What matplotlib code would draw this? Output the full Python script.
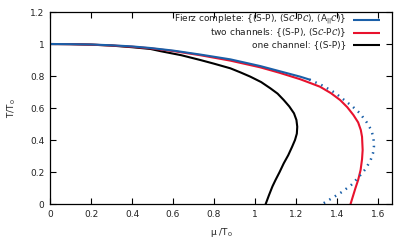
import matplotlib
matplotlib.use("Agg")
import matplotlib.pyplot as plt

# data: chemical potential mu/T0 vs temperature T/T0
black_mu = [0.0, 0.1, 0.2, 0.3, 0.4, 0.49, 0.54, 0.64, 0.733, 0.80, 0.88, 0.93, 0.977, 1.03, 1.075, 1.11,
            1.14, 1.167, 1.19, 1.202, 1.206, 1.204, 1.195, 1.181, 1.162, 1.14, 1.12, 1.10, 1.085, 1.068, 1.052]
black_T  = [1.0, 0.999, 0.996, 0.99, 0.98, 0.969, 0.955, 0.93, 0.90, 0.877, 0.848, 0.822, 0.796, 0.762, 0.723, 0.69,
            0.65, 0.61, 0.567, 0.525, 0.483, 0.44, 0.40, 0.358, 0.305, 0.254, 0.20, 0.15, 0.11, 0.055, 0.0]

red_mu = [0.0, 0.1, 0.2, 0.3, 0.4, 0.49, 0.6, 0.733, 0.88, 1.026, 1.12, 1.22, 1.27, 1.317, 1.37, 1.415,
          1.45, 1.48, 1.503, 1.516, 1.522, 1.525, 1.522, 1.515, 1.503, 1.49, 1.478, 1.466]
red_T  = [1.0, 0.999, 0.996, 0.991, 0.983, 0.973, 0.956, 0.93, 0.896, 0.854, 0.82, 0.78, 0.756, 0.733, 0.693, 0.65,
          0.605, 0.556, 0.51, 0.4625, 0.42, 0.3375, 0.28, 0.2125, 0.15, 0.10, 0.05, 0.0]

blue_mu = [0.0, 0.1, 0.2, 0.3, 0.4, 0.49, 0.6, 0.733, 0.88, 1.026, 1.12, 1.22, 1.265]
blue_T  = [1.0, 0.999, 0.997, 0.992, 0.985, 0.975, 0.959, 0.934, 0.904, 0.862, 0.83, 0.796, 0.778]

bluedot_mu = [1.265, 1.333, 1.39, 1.43, 1.475, 1.512, 1.545, 1.568, 1.578, 1.58, 1.575, 1.564, 1.54, 1.507,
              1.47, 1.426, 1.38, 1.328]
bluedot_T  = [0.778, 0.738, 0.695, 0.655, 0.61, 0.567, 0.51, 0.46, 0.41, 0.358, 0.315, 0.275, 0.22, 0.17,
              0.12, 0.077, 0.04, 0.0]

labels = [r'Fierz complete: {(S-P), (S$\mathcal{C}$-P$\mathcal{C}$), (A$_{||}\mathcal{C}$)}',
          r'two channels: {(S-P), (S$\mathcal{C}$-P$\mathcal{C}$)}',
          r'one channel: {(S-P)}']

xticks = [0, 0.2, 0.4, 0.6, 0.8, 1.0, 1.2, 1.4, 1.6]
xticklabels = ['0', '0.2', '0.4', '0.6', '0.8', '1', '1.2', '1.4', '1.6']
yticks = [0, 0.2, 0.4, 0.6, 0.8, 1.0, 1.2]
yticklabels = ['0', '0.2', '0.4', '0.6', '0.8', '1', '1.2']

BLUE = '#1a5fa8'
RED = '#e8122d'
BLACK = '#000000'
colors = [BLUE, RED, BLACK]

FS = 6.5
TXT = '#222222'

fig = plt.figure(figsize=(4.15, 2.49), dpi=100)
ax = fig.add_axes([0.1205, 0.1807, 0.824, 0.7711])

lw = 1.5
ax.plot(black_mu, black_T, color=BLACK, lw=lw)
ax.plot(red_mu, red_T, color=RED, lw=lw)
ax.plot(blue_mu, blue_T, color=BLUE, lw=lw)
ax.plot(bluedot_mu, bluedot_T, color=BLUE, lw=1.8, ls=(0, (0.6, 2.0)), dash_capstyle='butt')

ax.set_xlim(0, 1.668)
ax.set_ylim(0, 1.2)
ax.set_xticks(xticks)
ax.set_xticklabels(xticklabels)
ax.set_yticks(yticks)
ax.set_yticklabels(yticklabels)
ax.tick_params(direction='in', length=4, width=0.8, top=True, right=True,
               labelsize=FS, pad=4, colors='black')
for t in ax.get_xticklabels() + ax.get_yticklabels():
    t.set_color(TXT)
for s in ax.spines.values():
    s.set_linewidth(0.9)

ax.set_xlabel(r'μ /T$_0$', fontsize=FS, color=TXT, labelpad=5)
ax.set_ylabel(r'T/T$_0$', fontsize=FS, color=TXT, labelpad=9)

# gnuplot-style key: right-justified text followed by line sample
rows_y = [0.958, 0.8906, 0.8307]
for lab, col, yy in zip(labels, colors, rows_y):
    ax.text(0.867, yy, lab, transform=ax.transAxes, ha='right', va='center',
            fontsize=FS, color=TXT)
    ax.plot([0.886, 0.965], [yy, yy], transform=ax.transAxes, color=col, lw=lw,
            solid_capstyle='butt')

fig.savefig('out.png', dpi=100)
